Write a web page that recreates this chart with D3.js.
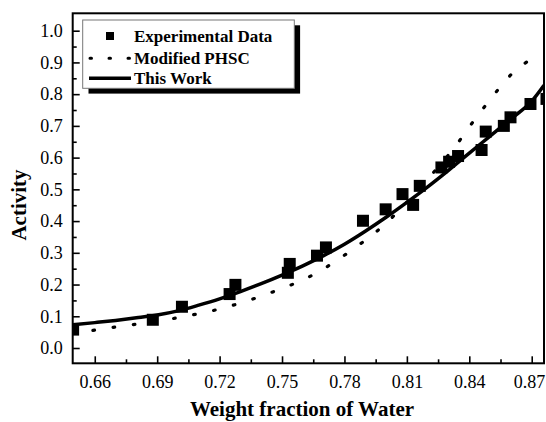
<!DOCTYPE html>
<html>
<head>
<meta charset="utf-8">
<script src="https://cdn.jsdelivr.net/npm/d3@7"></script>
<style>
  html, body { margin: 0; padding: 0; background: #fff; }
  svg { display: block; }
  text { font-family: "Liberation Serif", "Times New Roman", serif; fill: #000; }
</style>
</head>
<body>
<svg id="chart" width="546" height="422"></svg>
<script>
// ---- data ----
const expX = [0.6496, 0.6879, 0.7019, 0.7248, 0.7276, 0.7528, 0.7537, 0.7668, 0.7711, 0.7889,
              0.7998, 0.8079, 0.8130, 0.8162, 0.8266, 0.8303, 0.8346, 0.8459, 0.8479, 0.8566,
              0.8598, 0.8694, 0.8771];
const expY = [0.058, 0.089, 0.130, 0.170, 0.199, 0.237, 0.265, 0.291, 0.317, 0.401,
              0.437, 0.485, 0.451, 0.511, 0.569, 0.587, 0.605, 0.624, 0.682, 0.700,
              0.727, 0.769, 0.785];

const phscX = [0.6494, 0.6587, 0.6676, 0.6767, 0.6946, 0.7040, 0.7130, 0.7221, 0.7312, 0.7402,
               0.7493, 0.7581, 0.7673, 0.7761, 0.7853, 0.795, 0.805, 0.815, 0.825, 0.8336,
               0.8400, 0.8467, 0.8539, 0.8612, 0.8705];
const phscY = [0.047, 0.055, 0.064, 0.072, 0.089, 0.101, 0.112, 0.127, 0.144, 0.164,
               0.186, 0.209, 0.239, 0.275, 0.317, 0.365, 0.425, 0.495, 0.570, 0.638,
               0.697, 0.755, 0.815, 0.869, 0.913];

const workX = [0.6494, 0.66, 0.67, 0.68, 0.69, 0.70, 0.71, 0.72, 0.73, 0.74, 0.75, 0.76,
               0.77, 0.78, 0.79, 0.80, 0.81, 0.82, 0.83, 0.84, 0.85, 0.86, 0.87, 0.8759];
const workY = [0.073, 0.080, 0.087, 0.095, 0.104, 0.117, 0.135, 0.155, 0.178, 0.203, 0.230, 0.259,
               0.291, 0.327, 0.368, 0.412, 0.459, 0.508, 0.560, 0.614, 0.668, 0.722, 0.778, 0.828];

const xTicks = [0.66, 0.69, 0.72, 0.75, 0.78, 0.81, 0.84, 0.87];
const xMinor = [0.675, 0.705, 0.735, 0.765, 0.795, 0.825, 0.855];
const yTicks = [0.0, 0.1, 0.2, 0.3, 0.4, 0.5, 0.6, 0.7, 0.8, 0.9, 1.0];
const yMinor = [0.05, 0.15, 0.25, 0.35, 0.45, 0.55, 0.65, 0.75, 0.85, 0.95];

const legendLabels = ["Experimental Data", "Modified PHSC", "This Work"];
const xTitle = "Weight fraction of Water";
const yTitle = "Activity";

// ---- layout ----
const L = 72.7, R = 544, T = 13.3, B = 363.3;
const svg = d3.select("#chart");

const x = d3.scaleLinear().domain([0.6494, 0.8759]).range([L, R]);
const y = d3.scaleLinear().domain([-0.0482, 1.0548]).range([B, T]);

svg.append("defs").append("clipPath").attr("id", "plotclip")
  .append("rect").attr("x", L).attr("y", T).attr("width", R - L).attr("height", B - T);

// axes (inward ticks)
const gx = svg.append("g").attr("transform", `translate(0,${B})`)
  .call(d3.axisBottom(x).tickValues(xTicks).tickSize(-7).tickPadding(12).tickFormat(d3.format(".2f")));
const gxm = svg.append("g").attr("transform", `translate(0,${B})`)
  .call(d3.axisBottom(x).tickValues(xMinor).tickSize(-4).tickFormat(""));
const gy = svg.append("g").attr("transform", `translate(${L},0)`)
  .call(d3.axisLeft(y).tickValues(yTicks).tickSize(-7).tickPadding(10).tickFormat(d3.format(".1f")));
const gym = svg.append("g").attr("transform", `translate(${L},0)`)
  .call(d3.axisLeft(y).tickValues(yMinor).tickSize(-4).tickFormat(""));

[gx, gxm, gy, gym].forEach(g => {
  g.select(".domain").remove();
  g.selectAll(".tick line").attr("stroke", "#000").attr("stroke-width", 1.6);
  g.selectAll(".tick text").attr("font-size", 18).attr("font-family", "Liberation Serif, serif").attr("fill", "#000");
});
// keep the last x label inside the window (it touches the edge in the reference)
gx.selectAll(".tick text").filter(d => d === 0.87).attr("text-anchor", "end").attr("dx", 13);

// frame
svg.append("rect").attr("x", L).attr("y", T).attr("width", R - L).attr("height", B - T)
  .attr("fill", "none").attr("stroke", "#000").attr("stroke-width", 2);

const plot = svg.append("g").attr("clip-path", "url(#plotclip)");

// Modified PHSC dotted line
const phscLine = d3.line().x(d => x(d[0])).y(d => y(d[1])).curve(d3.curveMonotoneX);
plot.append("path")
  .datum(phscX.map((v, i) => [v, phscY[i]]))
  .attr("d", phscLine)
  .attr("fill", "none").attr("stroke", "#000").attr("stroke-width", 3.2)
  .attr("stroke-linecap", "round").attr("stroke-dasharray", "1.6,18.8");

// This Work solid line
const workLine = d3.line().x(d => x(d[0])).y(d => y(d[1])).curve(d3.curveMonotoneX);
plot.append("path")
  .datum(workX.map((v, i) => [v, workY[i]]))
  .attr("d", workLine)
  .attr("fill", "none").attr("stroke", "#000").attr("stroke-width", 3.5);

// Experimental squares
const S = 12;
plot.selectAll("rect.pt").data(expX.map((v, i) => [v, expY[i]])).enter()
  .append("rect").attr("class", "pt")
  .attr("x", d => x(d[0]) - S / 2).attr("y", d => y(d[1]) - S / 2)
  .attr("width", S).attr("height", S).attr("fill", "#000");

// legend
const lg = svg.append("g");
lg.append("rect").attr("x", 88.5).attr("y", 25.3).attr("width", 211.6).attr("height", 68.3).attr("fill", "#000");
lg.append("rect").attr("x", 82.7).attr("y", 20).attr("width", 211.6).attr("height", 68.3)
  .attr("fill", "#fff").attr("stroke", "#777").attr("stroke-width", 1);
const rowY = [36, 58.3, 78.3];
lg.append("rect").attr("x", 110 - 4).attr("y", rowY[0] - 4).attr("width", 8).attr("height", 8).attr("fill", "#000");
lg.append("line").attr("x1", 90).attr("x2", 130).attr("y1", rowY[1]).attr("y2", rowY[1])
  .attr("stroke", "#000").attr("stroke-width", 3).attr("stroke-linecap", "round").attr("stroke-dasharray", "1.5,17.5");
lg.append("line").attr("x1", 89).attr("x2", 131).attr("y1", rowY[2]).attr("y2", rowY[2])
  .attr("stroke", "#000").attr("stroke-width", 3.5);
lg.selectAll("text.lt").data(legendLabels).enter().append("text").attr("class", "lt")
  .attr("x", 134).attr("y", (d, i) => rowY[i] + 5.8)
  .attr("font-size", 17).attr("font-weight", "bold").text(d => d);

// axis titles
svg.append("text").attr("x", 302).attr("y", 416).attr("text-anchor", "middle")
  .attr("font-size", 21).attr("font-weight", "bold").text(xTitle);
svg.append("text").attr("transform", "translate(26,205) rotate(-90)").attr("text-anchor", "middle")
  .attr("font-size", 21).attr("font-weight", "bold").text(yTitle);
</script>
</body>
</html>
